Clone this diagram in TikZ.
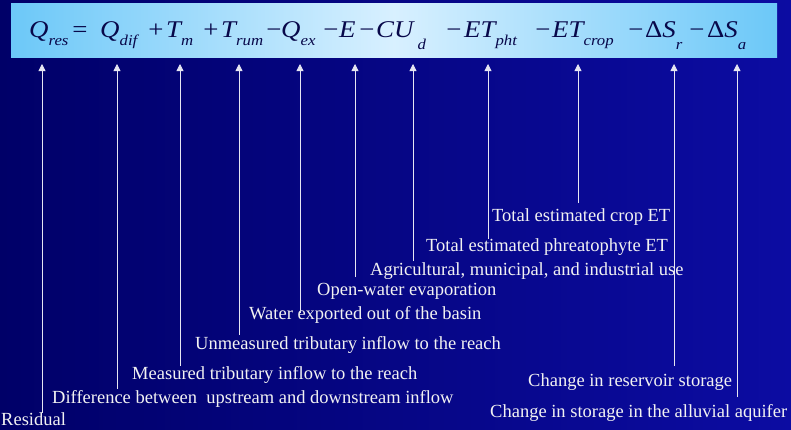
\documentclass[tikz,border=0pt]{standalone}
\usepackage{fontspec}
\setmainfont{Liberation Serif}
\newfontfamily\eqfont[FakeStretch=1.12]{Liberation Serif}
\usetikzlibrary{arrows.meta,calc}
\definecolor{bgl}{HTML}{000068}
\definecolor{bgr}{HTML}{0C0CA2}
\definecolor{barl}{HTML}{6CC8F8}
\definecolor{barm}{HTML}{D8F0FF}
\definecolor{ink}{HTML}{08084A}
\definecolor{text}{HTML}{F2F2F2}
\definecolor{wire}{HTML}{E6E6F2}
\tikzset{
  term/.style={anchor=base west, inner sep=0pt, text=ink, font=\eqfont\fontsize{24}{24}\selectfont\itshape},
  op/.style={anchor=base, inner sep=0pt, text=ink, font=\eqfont\fontsize{24}{24}\selectfont},
  lab/.style={anchor=west, inner sep=0pt, text=text, font=\fontsize{18.5}{20}\selectfont},
  arr/.style={draw=wire, line width=0.8pt, -{Triangle[width=7pt,length=7pt]}},
}
\newcommand\lo[1]{\raisebox{-8pt}{\fontsize{15}{15}\selectfont #1}}
\newcommand\llo[1]{\raisebox{-12pt}{\fontsize{15}{15}\selectfont #1}}

\begin{document}
\begin{tikzpicture}[x=1pt,y=-1pt]
  \useasboundingbox (0,0) rectangle (791,429);
  \shade[left color=bgl,right color=bgr] (0,0) rectangle (791,429);
  \shade[left color=barl,right color=barl,middle color=barm] (11,3) rectangle (777,57);

  % equation terms
  \node[term] (t-res) at (29,37) {Q\lo{res}};
  \node[op] at (80,37) {=};
  \node[term] (t-dif) at (100,37) {Q\lo{dif}};
  \node[op] at (156,37) {+};
  \node[term] (t-m) at (166,37) {T\lo{m}};
  \node[op] at (211,37) {+};
  \node[term] (t-rum) at (221,37) {T\lo{rum}};
  \node[op] at (274,37) {−};
  \node[term] (t-ex) at (281,37) {Q\lo{ex}};
  \node[op] at (331,37) {−};
  \node[term] (t-e) at (339,37) {E};
  \node[op] at (367,37) {−};
  \node[term] (t-cu) at (376,37) {CU\,\llo{d}};
  \node[op] at (454,37) {−};
  \node[term] (t-pht) at (464,37) {ET\lo{pht}};
  \node[op] at (543,37) {−};
  \node[term] (t-crop) at (552,37) {ET\lo{crop}};
  \node[op] at (636,37) {−};
  \node[term] (t-sr) at (645,37) {\upshape Δ\itshape S\llo{r}};
  \node[op] at (697,37) {−};
  \node[term] (t-sa) at (707,37) {\upshape Δ\itshape S\llo{a}};

  % arrow tips under the bar
  \foreach \t/\x in {res/42,dif/117,m/180,rum/239,ex/300,e/355,cu/413,pht/488,crop/578,sr/674,sa/737}
    \coordinate (tip-\t) at (\x,64);

  % labels
  \node[lab] (l-res) at (1,419) {Residual};
  \node[lab] (l-dif) at (52,399) {Difference between~ upstream and downstream inflow};
  \node[lab] (l-m) at (132,375) {Measured tributary inflow to the reach};
  \node[lab] (l-rum) at (195,345) {Unmeasured tributary inflow to the reach};
  \node[lab] (l-ex) at (249,315) {Water exported out of the basin};
  \node[lab] (l-e) at (317,291) {Open-water evaporation};
  \node[lab] (l-cu) at (370,271) {Agricultural, municipal, and industrial use};
  \node[lab] (l-pht) at (426,247) {Total estimated phreatophyte ET};
  \node[lab] (l-crop) at (492,217) {Total estimated crop ET};
  \node[lab] (l-sr) at (528,382) {Change in reservoir storage};
  \node[lab] (l-sa) at (490,413) {Change in storage in the alluvial aquifer};

  \foreach \t/\yb in {res/413,dif/389,m/366,rum/335,ex/313,e/277,cu/261,pht/239,crop/203,sr/366,sa/397}
    \draw[arr] (tip-\t |- 0,\yb) -- (tip-\t);
\end{tikzpicture}
\end{document}
